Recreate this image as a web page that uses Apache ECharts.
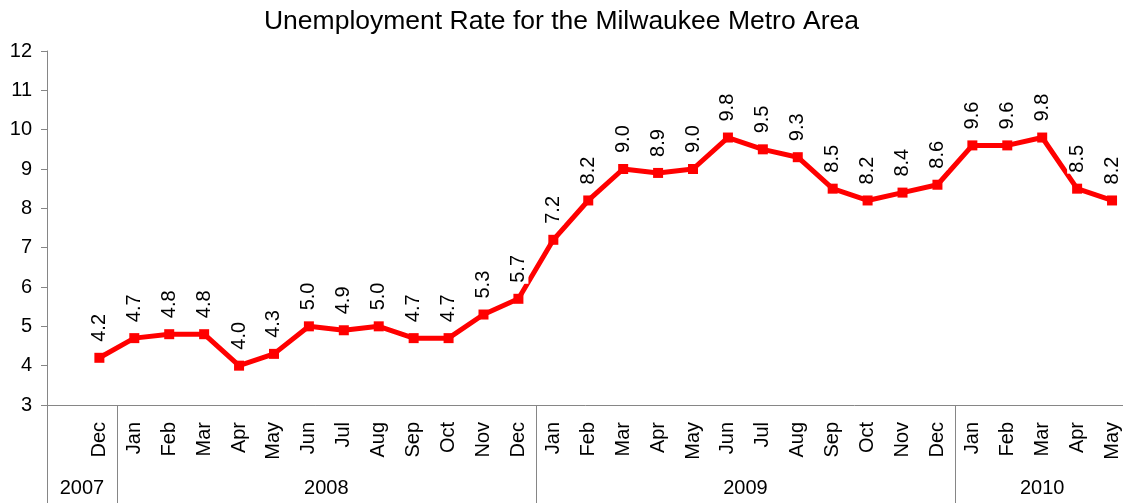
<!DOCTYPE html>
<html>
<head>
<meta charset="utf-8">
<script src="https://cdn.jsdelivr.net/npm/echarts@6/dist/echarts.min.js"></script>
<style>
    html, body { margin: 0; padding: 0; background: #fff; }
    #chart { width: 1123px; height: 503px; }
</style>
</head>
<body>
<div id="chart"></div>
<script>
// first slot is an empty category, as in the original spreadsheet axis
const months = ['', 'Dec',
    'Jan', 'Feb', 'Mar', 'Apr', 'May', 'Jun', 'Jul', 'Aug', 'Sep', 'Oct', 'Nov', 'Dec',
    'Jan', 'Feb', 'Mar', 'Apr', 'May', 'Jun', 'Jul', 'Aug', 'Sep', 'Oct', 'Nov', 'Dec',
    'Jan', 'Feb', 'Mar', 'Apr', 'May'];
const rates = [null, 4.2,
    4.7, 4.8, 4.8, 4.0, 4.3, 5.0, 4.9, 5.0, 4.7, 4.7, 5.3, 5.7,
    7.2, 8.2, 9.0, 8.9, 9.0, 9.8, 9.5, 9.3, 8.5, 8.2, 8.4, 8.6,
    9.6, 9.6, 9.8, 8.5, 8.2];
// year groups: label, first category index, category count
const years = ['2007', '2008', '2009', '2010'];
const yearStart = [0, 2, 14, 26];
const yearCount = [2, 12, 12, 5];

const font = 'Arial, "Liberation Sans", sans-serif';
const axisGray = '#868686';

const chart = echarts.init(document.getElementById('chart'));

chart.setOption({
    animation: false,
    title: {
        text: 'Unemployment Rate for the Milwaukee Metro Area',
        left: 'center',
        top: 3,
        textStyle: { fontFamily: font, fontSize: 26.5, fontWeight: 'normal', color: '#000' }
    },
    grid: { left: 47, top: 51, height: 354, width: 1082.5, outerBoundsMode: 'none', containLabel: false },
    xAxis: {
        type: 'category',
        data: months,
        axisLine: { lineStyle: { color: axisGray, width: 1 } },
        axisTick: { show: false },
        axisLabel: {
            interval: 0,
            rotate: 90,
            margin: 17,
            fontFamily: font,
            fontSize: 20,
            color: '#000'
        },
        splitLine: { show: false }
    },
    yAxis: {
        type: 'value',
        min: 3,
        max: 12,
        interval: 1,
        axisLine: { show: true, lineStyle: { color: axisGray, width: 1 } },
        axisTick: { show: true, length: 6, lineStyle: { color: axisGray } },
        axisLabel: { margin: 15, fontFamily: font, fontSize: 20, color: '#000' },
        splitLine: { show: false }
    },
    series: [{
        type: 'line',
        data: rates,
        symbol: 'rect',
        symbolSize: 10,
        lineStyle: { color: '#ff0000', width: 5 },
        itemStyle: { color: '#ff0000' },
        label: {
            show: true,
            position: 'top',
            rotate: 90,
            align: 'left',
            verticalAlign: 'middle',
            distance: 10,
            fontFamily: font,
            fontSize: 20,
            color: '#000',
            backgroundColor: '#fff',
            padding: [0, 1],
            formatter: p => p.value == null ? '' : p.value.toFixed(1)
        }
    }]
});

// year group separators and labels under the month labels
const c0 = chart.convertToPixel({ xAxisIndex: 0 }, 0);
const c1 = chart.convertToPixel({ xAxisIndex: 0 }, 1);
const band = c1 - c0;
const axisY = chart.convertToPixel({ yAxisIndex: 0 }, 3);
const graphics = [];
years.forEach((y, i) => {
    const left = chart.convertToPixel({ xAxisIndex: 0 }, yearStart[i]) - band / 2;
    const right = left + yearCount[i] * band;
    graphics.push({
        type: 'line',
        shape: { x1: Math.round(left) + 0.5, y1: axisY, x2: Math.round(left) + 0.5, y2: 503 },
        style: { stroke: axisGray, lineWidth: 1 }
    });
    graphics.push({
        type: 'text',
        x: (left + right) / 2,
        y: 488,
        style: {
            text: y,
            font: '20px ' + font,
            fill: '#000',
            align: 'center',
            verticalAlign: 'middle'
        }
    });
});
chart.setOption({ graphic: graphics });
</script>
</body>
</html>
